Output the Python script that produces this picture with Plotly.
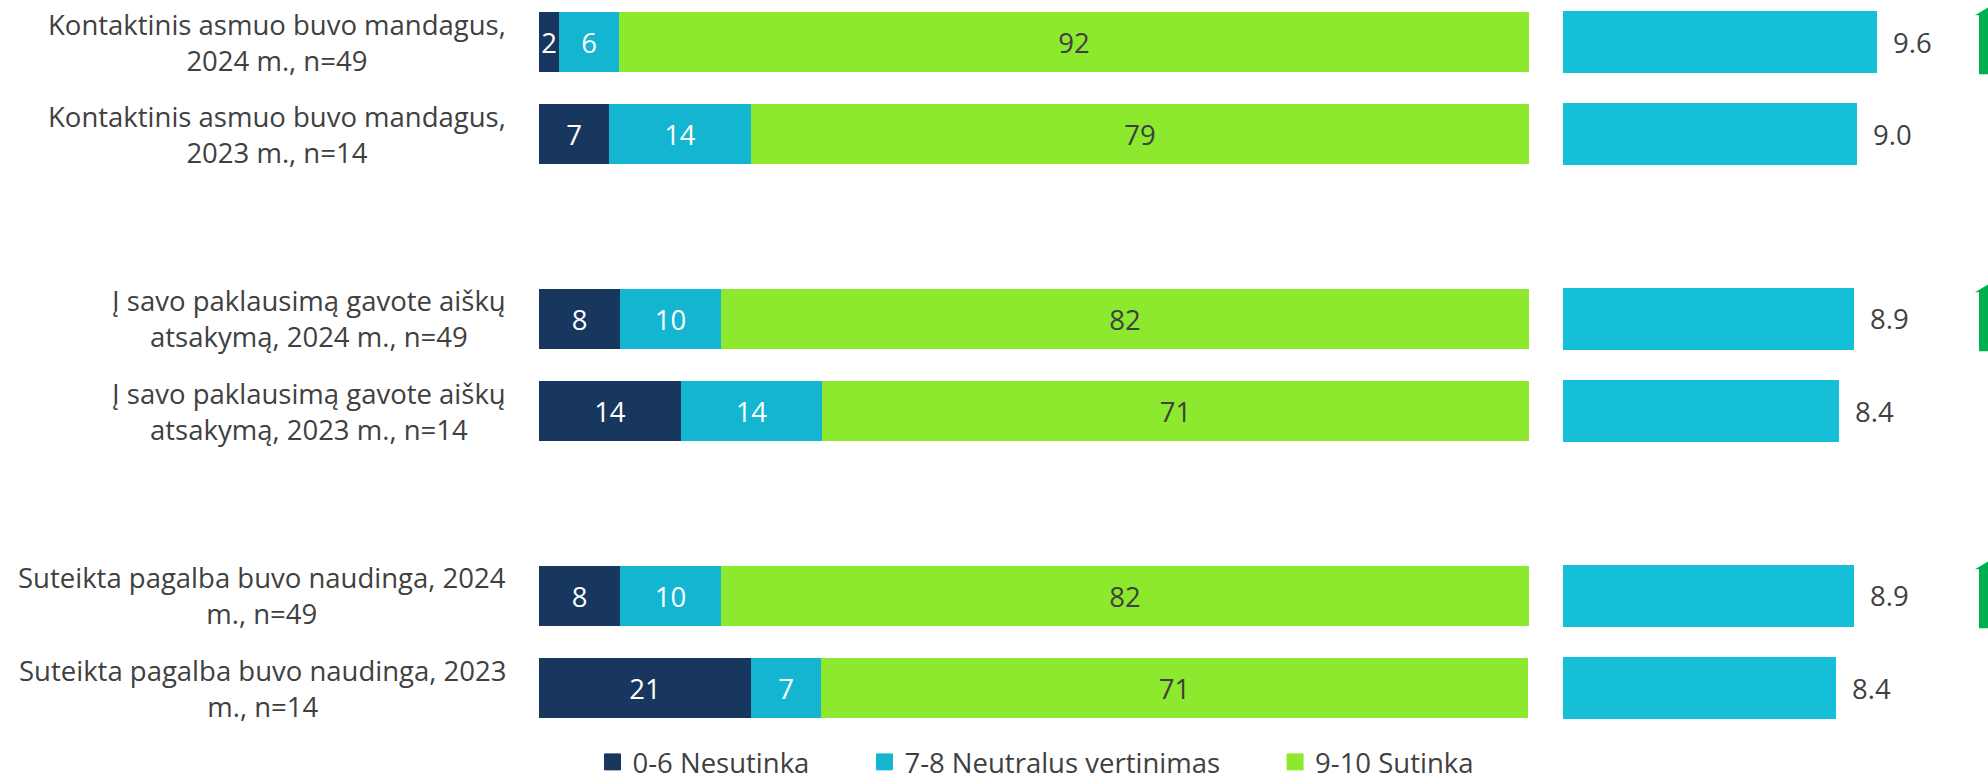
import plotly.graph_objects as go

# ---------------- data ----------------
categories = [
    "Kontaktinis asmuo buvo mandagus,<br>2024 m., n=49",
    "Kontaktinis asmuo buvo mandagus,<br>2023 m., n=14",
    "Į savo paklausimą gavote aiškų<br>atsakymą, 2024 m., n=49",
    "Į savo paklausimą gavote aiškų<br>atsakymą, 2023 m., n=14",
    "Suteikta pagalba buvo naudinga, 2024<br>m., n=49",
    "Suteikta pagalba buvo naudinga, 2023<br>m., n=14",
]
series_names = ["0-6 Nesutinka", "7-8 Neutralus vertinimas", "9-10 Sutinka"]
disagree = [2.0, 7.1, 8.2, 14.3, 8.2, 21.4]
neutral = [6.1, 14.3, 10.2, 14.3, 10.2, 7.1]
agree = [91.9, 78.6, 81.6, 71.4, 81.6, 71.4]
mean_score = [9.6, 9.0, 8.9, 8.45, 8.9, 8.36]
significant_increase = [True, False, True, False, True, False]

# ---------------- styles ----------------
FONT = "Open Sans"
FS = 27.5
TXT = "#404040"
C_NAVY = "#17375E"
C_CYAN = "#13B5D0"
C_GREEN = "#8CE92E"
C_MEAN = "#15BFD8"
C_ARROW = "#00B050"

W, H = 1988, 781
ML, MR, MT, MB = 539, 98, 0, 41
PW = W - ML - MR
PH = H - MT - MB

# one blank slot after each pair of rows
ypos = [i + i // 2 for i in range(len(categories))]

def px_to_paper_x(px):
    return (px - ML) / PW

fig = go.Figure()

colors = [C_NAVY, C_CYAN, C_GREEN]
text_colors = ["white", "white", TXT]
for vals, name, col, tcol in zip([disagree, neutral, agree], series_names, colors, text_colors):
    fig.add_trace(go.Bar(
        x=vals, y=ypos, orientation="h", name=name,
        marker=dict(color=col, line=dict(width=0)),
        width=0.65, showlegend=False,
        text=vals, texttemplate="%{x:.0f}", textposition="inside",
        insidetextanchor="middle", textangle=0, constraintext="none",
        textfont=dict(family=FONT, size=FS, color=tcol),
        xaxis="x", yaxis="y", hoverinfo="skip",
    ))

# legend entries (square swatches)
pad = ["\u00a0" * 7, "\u00a0" * 7, ""]
for name, col, p in zip(series_names, colors, pad):
    fig.add_trace(go.Scatter(
        x=[None], y=[None], mode="markers", name=name + p,
        marker=dict(symbol="square", size=16, color=col, line=dict(width=1, color=col)),
        xaxis="x", yaxis="y", showlegend=True, hoverinfo="skip",
    ))

fig.add_trace(go.Bar(
    x=mean_score, y=ypos, orientation="h", name="Vidurkis",
    marker=dict(color=C_MEAN, line=dict(width=0)),
    width=0.67, showlegend=False,
    xaxis="x2", yaxis="y", hoverinfo="skip",
))

annotations = []
for cat, y in zip(categories, ypos):
    annotations.append(dict(
        text=cat, xref="paper", yref="y", x=0, y=y, xshift=-31,
        xanchor="right", yanchor="middle", align="center", showarrow=False,
        font=dict(family=FONT, size=FS, color=TXT),
    ))
for v, y in zip(mean_score, ypos):
    annotations.append(dict(
        text=f"{v:.1f}", xref="x2", yref="y", x=v, y=y, xshift=14,
        xanchor="left", yanchor="middle", showarrow=False,
        font=dict(family=FONT, size=FS, color=TXT),
    ))

shapes = []
cx = px_to_paper_x(1989)
hw_head = 14 / PW
hw_shaft = 10 / PW
for sig, y in zip(significant_increase, ypos):
    if not sig:
        continue
    top, base, bottom = y - 0.38, y - 0.29, y + 0.35
    path = (f"M {cx - hw_shaft} {bottom} L {cx - hw_shaft} {base} "
            f"L {cx - hw_head} {base} L {cx} {top} L {cx + hw_head} {base} "
            f"L {cx + hw_shaft} {base} L {cx + hw_shaft} {bottom} Z")
    shapes.append(dict(type="path", xref="paper", yref="y", path=path,
                       fillcolor=C_ARROW, line=dict(width=0), layer="above"))

fig.update_layout(
    width=W, height=H,
    margin=dict(l=ML, r=MR, t=MT, b=MB, autoexpand=False),
    paper_bgcolor="white", plot_bgcolor="white",
    barmode="stack", bargap=0,
    font=dict(family=FONT, size=FS, color=TXT),
    xaxis=dict(domain=[0, px_to_paper_x(1529)], range=[0, 100],
               visible=False, fixedrange=True),
    xaxis2=dict(domain=[px_to_paper_x(1563), 1.0], range=[0, 10],
                visible=False, anchor="y", fixedrange=True),
    yaxis=dict(range=[7.56, -0.455], visible=False, fixedrange=True),
    legend=dict(orientation="h", x=px_to_paper_x(1036), xanchor="center",
                y=-(762 - PH) / PH, yanchor="middle",
                font=dict(family=FONT, size=FS, color=TXT),
                traceorder="normal", bgcolor="rgba(0,0,0,0)"),
    annotations=annotations,
    shapes=shapes,
    showlegend=True,
)

fig.write_html(
    "out.html",
    config={"displayModeBar": False},
    post_script="document.body.style.margin='0';document.body.style.overflow='hidden';",
)
